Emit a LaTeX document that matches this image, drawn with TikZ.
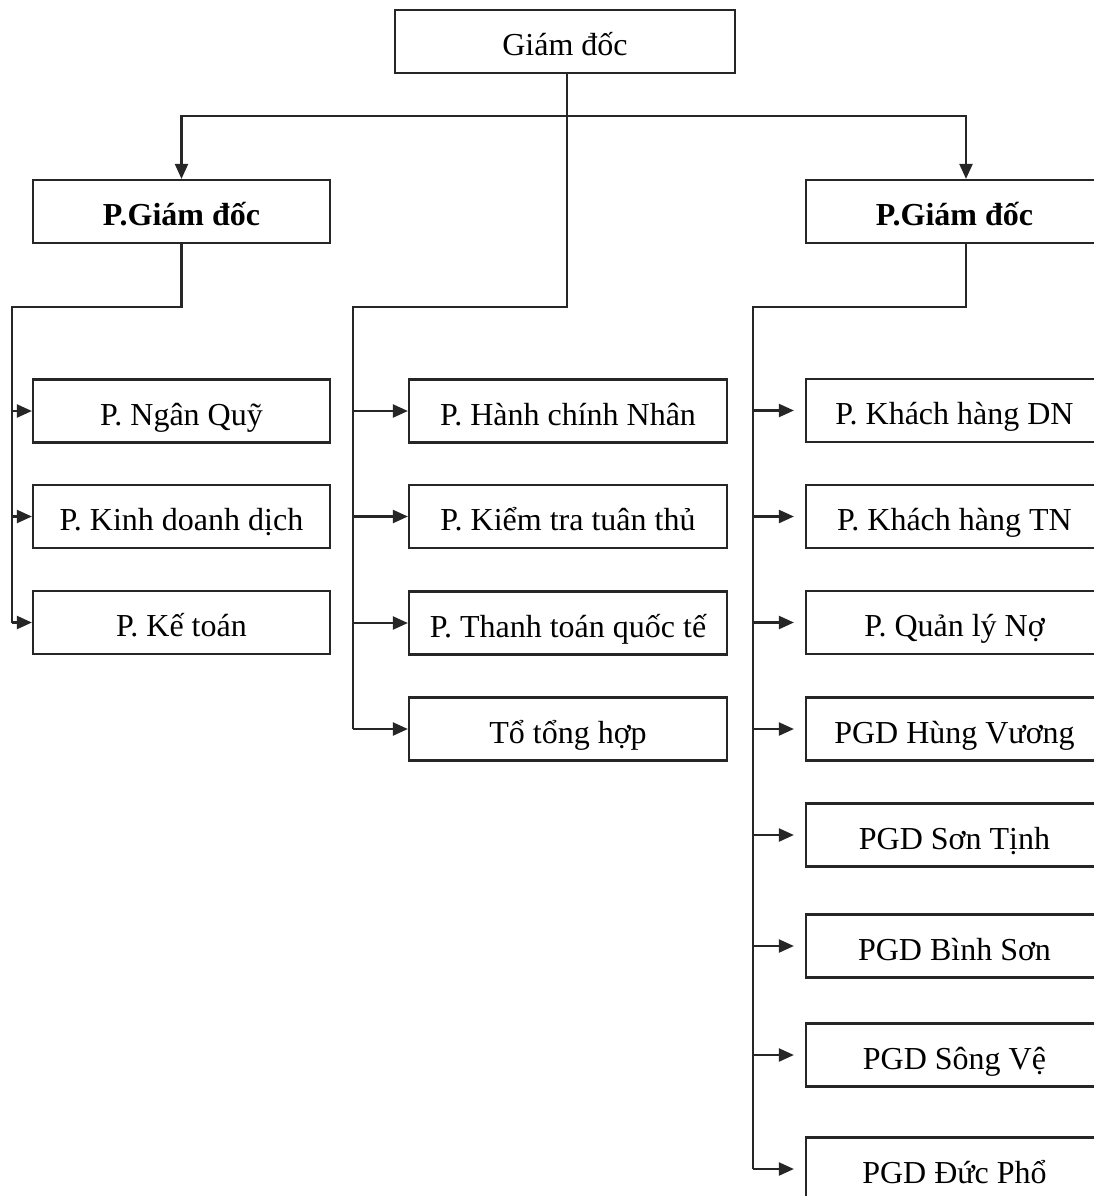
\documentclass[tikz,border=0pt]{standalone}
\usepackage{fontspec}
\setmainfont{Liberation Serif}
\usetikzlibrary{arrows.meta}

\tikzset{
  unit/.style={draw=black!85, line width=1.1pt, minimum width=148.5pt, minimum height=31.5pt,
    inner sep=0pt, text height=17pt, text depth=3pt, font=\fontsize{16}{18}\selectfont},
  head/.style={unit, font=\fontsize{16}{18}\selectfont\bfseries},
  link/.style={draw=black!85, line width=1.1pt},
}

\begin{document}
\begin{tikzpicture}[x=0.5pt, y=-0.5pt, >={Triangle[length=7.5pt,width=6.5pt]}]
        \useasboundingbox (0,0) rectangle (1094,1196);

        % Top levels
        \node[unit, minimum width=170pt] (gd) at (565,41.5) {Giám đốc};
        \node[head] (pgdL) at (181.5,211.5) {P.Giám đốc};
        \node[head] (pgdR) at (954.5,211.5) {P.Giám đốc};

        % Left column
        \node[unit] (nganquy) at (181.5,411) {P. Ngân Quỹ};
        \node[unit] (kinhdoanh) at (181.5,516.5) {P. Kinh doanh dịch};
        \node[unit] (ketoan) at (181.5,622.5) {P. Kế toán};

        % Middle column
        \node[unit, minimum width=159pt] (hanhchinh) at (568,411) {P. Hành chính Nhân};
        \node[unit, minimum width=159pt] (kiemtra) at (568,516.5) {P. Kiểm tra tuân thủ};
        \node[unit, minimum width=159pt] (thanhtoan) at (568,623) {P. Thanh toán quốc tế};
        \node[unit, minimum width=159pt] (tonghop) at (568,729) {Tổ tổng hợp};

        % Right column
        \node[unit] (khdn) at (954.5,410.5) {P. Khách hàng DN};
        \node[unit] (khtn) at (954.5,516.5) {P. Khách hàng TN};
        \node[unit] (quanly) at (954.5,622.5) {P. Quản lý Nợ};
        \node[unit] (hungvuong) at (954.5,729) {PGD Hùng Vương};
        \node[unit] (sontinh) at (954.5,835) {PGD Sơn Tịnh};
        \node[unit] (binhson) at (954.5,946) {PGD Bình Sơn};
        \node[unit] (songve) at (954.5,1055) {PGD Sông Vệ};
        \node[unit] (ducpho) at (954.5,1169) {PGD Đức Phổ};

        % Bus from the top
        \coordinate (bus) at (567,116);
        \coordinate (tapR) at (966,116);
        \draw[link, ->] (gd.south -| bus) -- (bus) -| (pgdL.north);
        \draw[link, ->] (bus) -- (tapR) -- (tapR |- pgdR.north);

        % Trunks
        \coordinate (jL) at (12,307);
        \coordinate (jM) at (353,307);
        \coordinate (jR) at (753,307);
        \draw[link] (pgdL.south) |- (jL) -- (jL |- ketoan.west);
        \draw[link] (bus) |- (jM) -- (jM |- tonghop.west);
        \draw[link] (tapR |- pgdR.south) |- (jR) -- (jR |- ducpho.west);

        % Left arrows
        \draw[link, ->] (jL |- nganquy.west) -- (nganquy.west);
        \draw[link, ->] (jL |- kinhdoanh.west) -- (kinhdoanh.west);
        \draw[link, ->] (jL |- ketoan.west) -- (ketoan.west);

        % Middle arrows
        \draw[link, ->] (jM |- hanhchinh.west) -- (hanhchinh.west);
        \draw[link, ->] (jM |- kiemtra.west) -- (kiemtra.west);
        \draw[link, ->] (jM |- thanhtoan.west) -- (thanhtoan.west);
        \draw[link, ->] (jM |- tonghop.west) -- (tonghop.west);

        % Right arrows, with a small gap
        \draw[link, ->] (jR |- khdn.west) -- ([xshift=-5.5pt]khdn.west);
        \draw[link, ->] (jR |- khtn.west) -- ([xshift=-5.5pt]khtn.west);
        \draw[link, ->] (jR |- quanly.west) -- ([xshift=-5.5pt]quanly.west);
        \draw[link, ->] (jR |- hungvuong.west) -- ([xshift=-5.5pt]hungvuong.west);
        \draw[link, ->] (jR |- sontinh.west) -- ([xshift=-5.5pt]sontinh.west);
        \draw[link, ->] (jR |- binhson.west) -- ([xshift=-5.5pt]binhson.west);
        \draw[link, ->] (jR |- songve.west) -- ([xshift=-5.5pt]songve.west);
        \draw[link, ->] (jR |- ducpho.west) -- ([xshift=-5.5pt]ducpho.west);
\end{tikzpicture}
\end{document}
